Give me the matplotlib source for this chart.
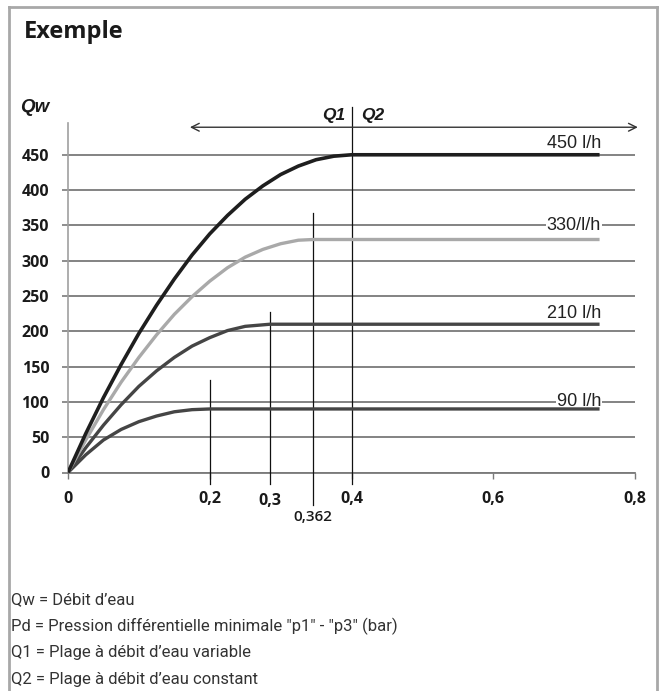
import matplotlib
matplotlib.use("Agg")
import matplotlib.pyplot as plt
import matplotlib.font_manager as fm

# ---------------- data ----------------
x_450 = [0, 0.025, 0.05, 0.075, 0.1, 0.125, 0.15, 0.175, 0.2, 0.225, 0.25, 0.275, 0.3, 0.325, 0.35, 0.375, 0.4, 0.75]
y_450 = [0, 55, 106, 153, 197, 237, 274, 308, 338, 364, 387, 406, 422, 434, 443, 448, 450, 450]

x_330 = [0, 0.025, 0.05, 0.075, 0.1, 0.125, 0.15, 0.175, 0.2, 0.225, 0.25, 0.275, 0.3, 0.325, 0.346, 0.75]
y_330 = [0, 46, 89, 128, 163, 195, 224, 249, 271, 290, 305, 316, 324, 329, 330, 330]

x_210 = [0, 0.025, 0.05, 0.075, 0.1, 0.125, 0.15, 0.175, 0.2, 0.225, 0.25, 0.285, 0.75]
y_210 = [0, 35, 67, 96, 122, 144, 163, 179, 191, 201, 207, 210, 210]

x_90 = [0, 0.025, 0.05, 0.075, 0.1, 0.125, 0.15, 0.175, 0.2, 0.75]
y_90 = [0, 25, 46, 61, 72, 80, 86, 89, 90, 90]

curve_labels = ["450 l/h", "330/l/h", "210 l/h", "90 l/h"]
curve_label_y = [466, 350, 225, 100]

y_ticks = [0, 50, 100, 150, 200, 250, 300, 350, 400, 450]
y_ticklabels = ["0", "50", "100", "150", "200", "250", "300", "350", "400", "450"]
x_ticks = [0, 0.2, 0.4, 0.6, 0.8]
x_ticklabels = ["0", "0,2", "0,4", "0,6", "0,8"]

# limit markers (vertical lines) and their labels
vline_x = [0.2, 0.285, 0.346, 0.4]
vline_top = [131, 227, 368, 517]
vline_bottom = [-16, -16, -46, -16]
extra_tick_x = [0.285, 0.346]
extra_tick_labels = ["0,3", "0,362"]

title = "Exemple"
y_title = "Qw"
legend_lines = [
    "Qw = Débit d\u2019eau",
    "Pd = Pression différentielle minimale \"p1\" - \"p3\" (bar)",
    "Q1 = Plage à débit d\u2019eau variable",
    "Q2 = Plage à débit d\u2019eau constant",
]

# ---------------- fonts ----------------
avail = {f.name for f in fm.fontManager.ttflist}
narrow = "Liberation Sans Narrow" if "Liberation Sans Narrow" in avail else "Roboto"
HUM = "Open Sans"
ARIAL = "Liberation Sans"

W, H = 660, 691
fig = plt.figure(figsize=(W / 100, H / 100), dpi=100)
fig.patch.set_facecolor("white")

def fx(px):
    return px / W

def fy(py):
    return 1 - py / H

# outer frame (bottom is cut off)
frame_kw = dict(color="#a8a8a8", lw=2, transform=fig.transFigure)
fig.add_artist(plt.Line2D([fx(9), fx(9)], [fy(7), fy(700)], **frame_kw))
fig.add_artist(plt.Line2D([fx(657), fx(657)], [fy(7), fy(700)], **frame_kw))
fig.add_artist(plt.Line2D([fx(9), fx(657)], [fy(7), fy(7)], **frame_kw))

fig.text(fx(24), fy(32), title, fontsize=17, fontweight="bold", family=HUM,
         ha="left", va="center", color="#1a1a1a")
fig.text(fx(20), fy(108), y_title, fontsize=13.5, fontweight="bold", style="italic",
         family=ARIAL, ha="left", va="center", color="#1a1a1a")

# ---------------- axes ----------------
ax = fig.add_axes([fx(68), fy(472.5), fx(635) - fx(68), (472.5 - 123) / H])
ax.set_xlim(0, 0.8)
ax.set_ylim(0, 495)
for s in ["top", "right"]:
    ax.spines[s].set_visible(False)
ax.spines["left"].set_color("#a0a0a0")
ax.spines["left"].set_linewidth(1.2)
ax.spines["bottom"].set_color("#7a7a7a")
ax.spines["bottom"].set_linewidth(1.3)

ax.set_yticks(y_ticks)
ax.set_yticklabels(y_ticklabels, fontsize=11.5, fontweight="bold", family=HUM, color="#1a1a1a")
ax.set_xticks(x_ticks)
ax.set_xticklabels(x_ticklabels, fontsize=11.5, fontweight="bold", family=HUM, color="#1a1a1a")
ax.tick_params(axis="y", direction="out", length=4.5, width=1.2, color="#7a7a7a", pad=9)
ax.tick_params(axis="x", direction="out", length=4, width=1.0, color="#7a7a7a", pad=9)
ax.grid(axis="y", color="#7a7a7a", lw=1.3)
ax.set_axisbelow(True)

for xv, yt, yb in zip(vline_x, vline_top, vline_bottom):
    ax.plot([xv, xv], [yb, yt], color="#111111", lw=0.9, clip_on=False, zorder=3)

ax.text(extra_tick_x[0], -40, extra_tick_labels[0], fontsize=11.5, fontweight="bold",
        family=HUM, ha="center", va="center", color="#1a1a1a")
ax.text(extra_tick_x[1], -63, extra_tick_labels[1], fontsize=11, fontweight="semibold",
        family=HUM, ha="center", va="center", color="#1a1a1a")

# curves
ax.plot(x_90, y_90, color="#454545", lw=2.4, solid_capstyle="butt", zorder=4)
ax.plot(x_210, y_210, color="#454545", lw=2.4, solid_capstyle="butt", zorder=4)
ax.plot(x_330, y_330, color="#a9a9a9", lw=2.4, solid_capstyle="butt", zorder=4)
ax.plot(x_450, y_450, color="#1e1e1e", lw=2.6, solid_capstyle="butt", zorder=5)

# curve labels
for lab, yv in zip(curve_labels, curve_label_y):
    t = ax.text(0.752, yv, lab, fontsize=13, family=ARIAL, ha="right", va="center",
                color="#222222", zorder=3.5)
    if lab in ("330/l/h", "90 l/h"):
        t.set_bbox(dict(facecolor="white", edgecolor="none", pad=0.5))

# Q1 / Q2 arrow
ax.annotate("", xy=(0.172, 489), xytext=(0.804, 489),
            arrowprops=dict(arrowstyle="<->", color="#333333", lw=1.0,
                            mutation_scale=14, shrinkA=0, shrinkB=0),
            annotation_clip=False)
ax.text(0.391, 506, "Q1", fontsize=12.5, fontweight="bold", style="italic", family=ARIAL,
        ha="right", va="center", color="#1a1a1a", clip_on=False)
ax.text(0.414, 506, "Q2", fontsize=12.5, fontweight="bold", style="italic", family=ARIAL,
        ha="left", va="center", color="#1a1a1a", clip_on=False)

# legend text at bottom
for i, line in enumerate(legend_lines):
    fig.text(fx(11), fy(600 + i * 26.5), line, fontsize=12, family=[narrow, "DejaVu Sans"],
             ha="left", va="center", color="#333333")

fig.savefig("out.png", dpi=100, facecolor="white")
